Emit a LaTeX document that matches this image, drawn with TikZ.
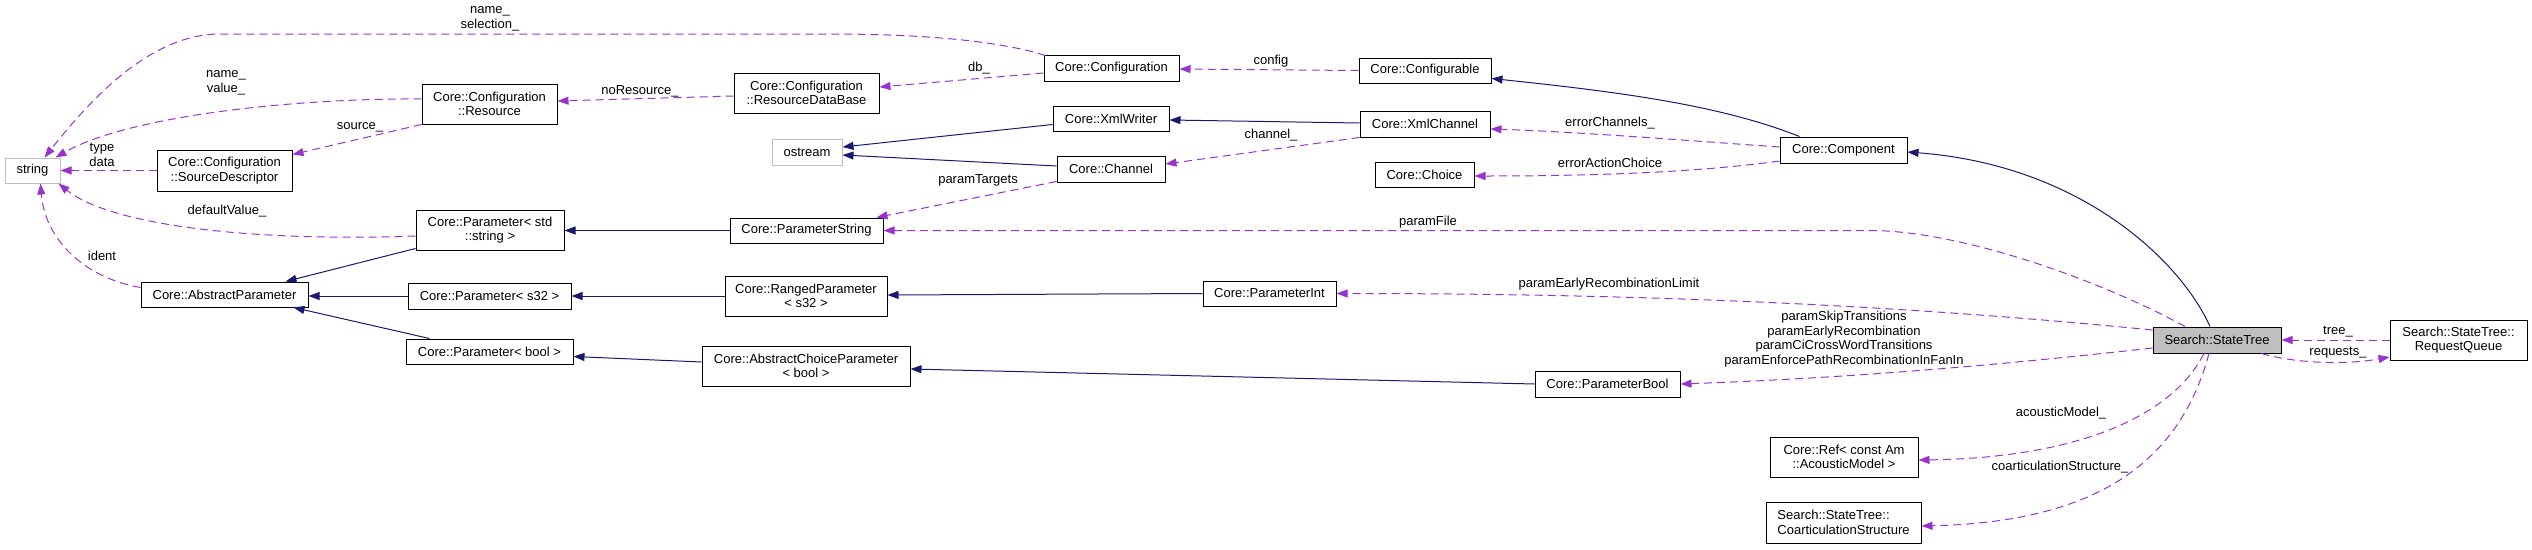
\documentclass[tikz,border=0pt]{standalone}
\usepackage{fontspec}
\setmainfont{Liberation Sans}
\usetikzlibrary{arrows.meta,calc}
\definecolor{usecol}{RGB}{154,50,205}
\definecolor{inhcol}{RGB}{25,25,112}
\definecolor{greyb}{RGB}{191,191,191}
\begin{document}
\begin{tikzpicture}[x=1pt,y=-1pt,
  cls/.style={draw=black, line width=1pt, fill=white, inner sep=0pt, align=center, font=\fontsize{13}{14.5}\selectfont},
  ext/.style={cls, draw=greyb},
  lbl/.style={inner sep=0pt, align=center, font=\fontsize{13}{14.5}\selectfont},
  uses/.style={draw=usecol, line width=1pt, dash pattern=on 8pt off 5pt, -{Triangle[length=11pt,width=8pt,fill=usecol]}},
  inh/.style={draw=inhcol, line width=1pt, -{Triangle[length=11pt,width=8pt,fill=inhcol]}},
]
\useasboundingbox (0,0) rectangle (2532,549);
% nodes
\node[ext, minimum width=55pt, minimum height=25pt] (string) at (32.5,170.5) {string};
\node[cls, minimum width=135pt, minimum height=41pt] (sd) at (224.5,170.5) {Core::Configuration\\::SourceDescriptor};
\node[cls, minimum width=135pt, minimum height=40pt] (res) at (489.5,104) {Core::Configuration\\::Resource};
\node[cls, minimum width=148pt, minimum height=40pt] (pstd) at (490,230) {Core::Parameter< std\\::string >};
\node[cls, minimum width=167pt, minimum height=25pt] (absp) at (224.5,294.5) {Core::AbstractParameter};
\node[cls, minimum width=163pt, minimum height=26pt] (ps32) at (489.5,296) {Core::Parameter< s32 >};
\node[cls, minimum width=167pt, minimum height=25pt] (pbool) at (489.5,351.5) {Core::Parameter< bool >};
\node[cls, minimum width=145pt, minimum height=40pt] (rdb) at (806.5,93) {Core::Configuration\\::ResourceDataBase};
\node[ext, minimum width=70pt, minimum height=26pt] (ostream) at (807,152) {ostream};
\node[cls, minimum width=153pt, minimum height=25pt] (pstr) at (806.5,230.5) {Core::ParameterString};
\node[cls, minimum width=162pt, minimum height=40pt] (ranged) at (806,296) {Core::RangedParameter\\< s32 >};
\node[cls, minimum width=208pt, minimum height=40pt] (acp) at (806,366) {Core::AbstractChoiceParameter\\< bool >};
\node[cls, minimum width=135pt, minimum height=26pt] (conf) at (1111.5,68) {Core::Configuration};
\node[cls, minimum width=116pt, minimum height=25pt] (xmlw) at (1111,118.5) {Core::XmlWriter};
\node[cls, minimum width=108pt, minimum height=26pt] (chan) at (1111,169) {Core::Channel};
\node[cls, minimum width=133pt, minimum height=25pt] (pint) at (1269.5,293.5) {Core::ParameterInt};
\node[cls, minimum width=132pt, minimum height=25pt] (cfgable) at (1425,70.5) {Core::Configurable};
\node[cls, minimum width=130pt, minimum height=26pt] (xmlch) at (1425,124) {Core::XmlChannel};
\node[cls, minimum width=99pt, minimum height=25pt] (choice) at (1424.5,174.5) {Core::Choice};
\node[cls, minimum width=145pt, minimum height=26pt] (pboolc) at (1607.5,384) {Core::ParameterBool};
\node[cls, minimum width=127pt, minimum height=26pt] (comp) at (1843.5,150) {Core::Component};
\node[cls, minimum width=148pt, minimum height=40pt] (refam) at (1844,457) {Core::Ref< const Am\\::AcousticModel >};
\node[cls, minimum width=155pt, minimum height=41pt, align=left] (coart) at (1843.5,522.5) {Search::StateTree::\\CoarticulationStructure};
\node[cls, fill=greyb, minimum width=128pt, minimum height=26pt] (st) at (2217,340) {Search::StateTree};
\node[cls, minimum width=137pt, minimum height=40pt] (rq) at (2458.5,340) {Search::StateTree::\\RequestQueue};
% edges
\draw[uses] ($(conf.north west)+(2,1)$) .. controls (990,38) and (900,34) .. (830,34) -- (220,34) .. controls (150,34) and (90,100) .. ($(string.north)+(12,0)$);
\node[lbl] (l1) at (490,19) {name\_\\selection\_};
\draw[uses] ($(res.west)+(0,-5)$) .. controls (300,98) and (130,115) .. ($(string.north east)+(-5,0)$);
\node[lbl] (l2) at (226,83) {name\_\\value\_};
\draw[uses] (sd.west) -- (string.east);
\node[lbl] (l3) at (102,155) {type\\data};
\draw[uses] (res.south west) -- ($(sd.north east)+(0,5)$);
\node[lbl] (l4) at (360,127) {source\_};
\draw[uses] ($(pstd.west)+(0,6)$) .. controls (250,242) and (110,225) .. ($(string.south east)+(-2,0)$);
\node[lbl] (l5) at (227,211) {defaultValue\_};
\draw[uses] ($(absp.west)+(0,-7)$) .. controls (85,278) and (45,240) .. ($(string.south)+(8,0)$);
\node[lbl] (l6) at (102,256) {ident};
\draw[uses] ($(rdb.west)+(0,3)$) -- ($(res.east)+(0,-3)$);
\node[lbl] (l7) at (640,91) {noResource\_};
\draw[uses] ($(conf.west)+(0,5)$) -- ($(rdb.east)+(0,-6)$);
\node[lbl] (l8) at (979,68) {db\_};
\draw[uses] (cfgable.west) -- ($(conf.east)+(0,1)$);
\node[lbl] (l9) at (1271,61) {config};
\draw[inh] ($(xmlw.west)+(0,6)$) -- ($(ostream.east)+(0,-5)$);
\draw[inh] ($(chan.west)+(0,-3)$) -- ($(ostream.east)+(0,3)$);
\draw[inh] ($(xmlch.west)+(0,-1)$) -- ($(xmlw.east)+(0,1.5)$);
\draw[uses] (xmlch.south west) -- ($(chan.east)+(0,-5)$);
\node[lbl] (l10) at (1271,135) {channel\_};
\draw[uses] ($(chan.south west)+(0,-1)$) -- ($(pstr.north east)+(-7,0)$);
\node[lbl] (l11) at (978,180) {paramTargets};
\draw[inh] (pstr.west) -- ($(pstd.east)+(0,0.5)$);
\draw[inh] ($(pstd.south west)+(0,-2)$) -- ($(absp.north east)+(-23,0)$);
\draw[inh] (ps32.west) -- ($(absp.east)+(0,1.5)$);
\draw[inh] ($(pbool.north west)+(24,0)$) -- ($(absp.south east)+(-15,0)$);
\draw[inh] (ranged.west) -- (ps32.east);
\draw[inh] ($(acp.west)+(0,-4)$) -- ($(pbool.east)+(0,5)$);
\draw[inh] (pint.west) -- ($(ranged.east)+(0,-1)$);
\draw[inh] (pboolc.west) -- ($(acp.east)+(0,3)$);
\draw[inh] ($(comp.north west)+(20,0)$) .. controls (1720,105) and (1620,92) .. ($(cfgable.east)+(0,8)$);
\draw[uses] ($(comp.west)+(0,-3)$) .. controls (1680,140) and (1580,132) .. ($(xmlch.east)+(0,5)$);
\node[lbl] (l12) at (1610,123) {errorChannels\_};
\draw[uses] ($(comp.west)+(0,11)$) .. controls (1700,172) and (1600,176) .. ($(choice.east)+(0,1.5)$);
\node[lbl] (l13) at (1610,163) {errorActionChoice};
\draw[inh] ($(st.north)+(-7,0)$) .. controls (2180,260) and (2080,165) .. ($(comp.east)+(0,2)$);
\draw[uses] ($(st.north)+(-32,0)$) .. controls (2100,280) and (1960,230.5) .. (1870,230.5) -- (pstr.east);
\node[lbl] (l14) at (1428,222) {paramFile};
\draw[uses] ($(st.west)+(0,-10)$) .. controls (1950,310) and (1700,293.5) .. (pint.east);
\node[lbl] (l15) at (1609,284) {paramEarlyRecombinationLimit};
\draw[uses] ($(st.west)+(0,8)$) .. controls (2000,365) and (1850,378) .. (pboolc.east);
\node[lbl] (l16) at (1844,339) {paramSkipTransitions\\paramEarlyRecombination\\paramCiCrossWordTransitions\\paramEnforcePathRecombinationInFanIn};
\draw[uses] ($(st.south)+(-13,0)$) .. controls (2170,420) and (2070,458) .. ($(refam.east)+(0,3)$);
\node[lbl] (l17) at (2061,413) {acousticModel\_};
\draw[uses] ($(st.south)+(-8,0)$) .. controls (2180,460) and (2100,522) .. ($(coart.east)+(0,3.5)$);
\node[lbl] (l18) at (2060,467) {coarticulationStructure\_};
\draw[uses] (rq.west) -- (st.east);
\node[lbl] (l19) at (2338,332) {tree\_};
\draw[uses] ($(st.south east)+(-20,0)$) .. controls (2290,362) and (2340,366) .. ($(rq.west)+(0,17)$);
\node[lbl] (l20) at (2338,353) {requests\_};
\end{tikzpicture}
\end{document}
